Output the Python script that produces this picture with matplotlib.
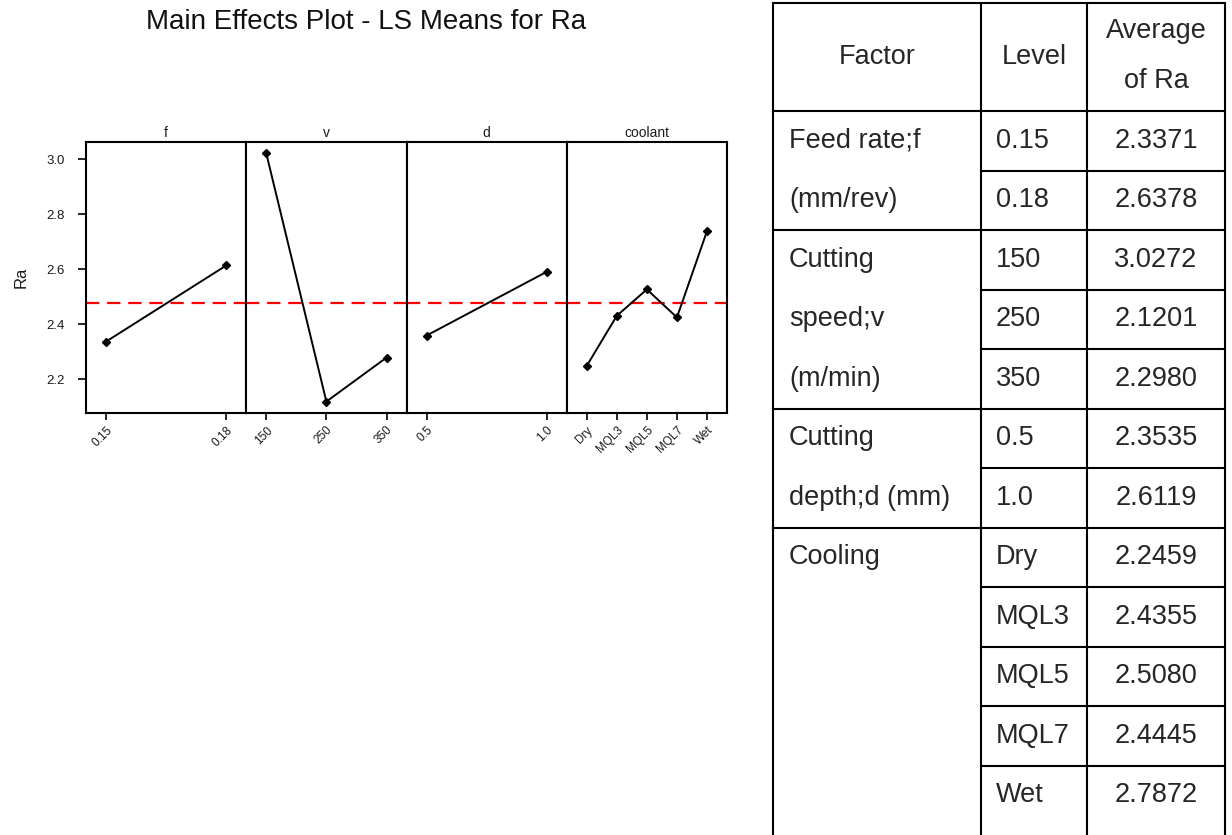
import matplotlib
matplotlib.use("Agg")
import matplotlib.pyplot as plt

plt.rcParams['font.family'] = ['Liberation Sans', 'DejaVu Sans']

# ---------------- data ----------------
title = "Main Effects Plot - LS Means for Ra"
panel_names = ["f", "v", "d", "coolant"]
f_levels = ["0.15", "0.18"]
f_means = [2.337, 2.614]
v_levels = ["150", "250", "350"]
v_means = [3.022, 2.119, 2.279]
d_levels = ["0.5", "1.0"]
d_means = [2.359, 2.591]
coolant_levels = ["Dry", "MQL3", "MQL5", "MQL7", "Wet"]
coolant_means = [2.249, 2.431, 2.527, 2.425, 2.739]
grand_mean = 2.476
y_ticks = [2.2, 2.4, 2.6, 2.8, 3.0]

table_header = ["Factor", "Level", "Average\nof Ra"]
table_factor_text = ["Feed rate;f", "(mm/rev)", "Cutting", "speed;v", "(m/min)",
                     "Cutting", "depth;d (mm)", "Cooling", "", "", "", ""]
table_levels = ["0.15", "0.18", "150", "250", "350", "0.5", "1.0",
                "Dry", "MQL3", "MQL5", "MQL7", "Wet"]
table_avgs = ["2.3371", "2.6378", "3.0272", "2.1201", "2.2980", "2.3535",
              "2.6119", "2.2459", "2.4355", "2.5080", "2.4445", "2.7872"]
group_rows = [2, 3, 2, 5]

# ---------------- figure ----------------
W, H = 1232, 835
fig = plt.figure(figsize=(W / 100, H / 100), dpi=100)

def fx(px):
    return px / W

def fy(py):
    return 1 - py / H

left, right, top, bottom = 86, 727, 142, 413
pw = (right - left) / 4
levels_all = [f_levels, v_levels, d_levels, coolant_levels]
means_all = [f_means, v_means, d_means, coolant_means]
edge_px = 20
txt = '#1a1a1a'

for i, (name, levs, means) in enumerate(zip(panel_names, levels_all, means_all)):
    ax = fig.add_axes([fx(left + i * pw), fy(bottom), fx(pw), (bottom - top) / H])
    n = len(levs)
    xs = list(range(n))
    a = edge_px / (pw - 2 * edge_px) * (n - 1)
    ax.set_xlim(-a, n - 1 + a)
    ax.set_ylim(2.0775, 3.063)
    ax.axhline(grand_mean, color='#ff0000', lw=1.6, ls=(0, (6, 3.5)), zorder=1)
    ax.plot(xs, means, color='black', lw=1.4, marker='D', ms=4.5,
            mfc='black', mec='black', zorder=3)
    ax.set_xticks(xs)
    ax.set_xticklabels(levs, rotation=45, ha='right', rotation_mode='anchor',
                       fontsize=8.5, color=txt)
    ax.tick_params(axis='x', length=5, width=1.2, pad=3)
    for sp in ax.spines.values():
        sp.set_linewidth(1.5)
    if i == 0:
        ax.set_yticks(y_ticks)
        ax.set_yticklabels([f"{t:.1f}" for t in y_ticks], fontsize=9.5, color=txt)
        ax.tick_params(axis='y', length=6, width=1.2, pad=9)
        ax.set_ylabel("Ra", fontsize=12, labelpad=13, color=txt)
    else:
        ax.set_yticks([])
    ax.set_title(name, fontsize=10, pad=3.5, color=txt)

fig.text(fx(366), fy(22), title, fontsize=20, ha='center', va='center', color='#111111')

# ---------------- table ----------------
tax = fig.add_axes([0, 0, 1, 1])
tax.set_xlim(0, W)
tax.set_ylim(H, 0)
tax.axis('off')

cx = [773, 981, 1087, 1225]
t_top, h_bot, rh = 3, 111, 59.5
y_end = H + 5
lw_t = 1.5
row_tops = [h_bot + k * rh for k in range(len(table_levels))]

for x in cx:
    tax.plot([x, x], [t_top, y_end], color='black', lw=lw_t, solid_capstyle='projecting')
tax.plot([cx[0], cx[3]], [t_top, t_top], color='black', lw=lw_t)
tax.plot([cx[0], cx[3]], [h_bot, h_bot], color='black', lw=lw_t)
for k in range(1, len(table_levels)):
    y = row_tops[k]
    tax.plot([cx[1], cx[3]], [y, y], color='black', lw=lw_t)
acc = 0
for g in group_rows[:-1]:
    acc += g
    y = row_tops[acc]
    tax.plot([cx[0], cx[1]], [y, y], color='black', lw=lw_t)

fs_t = 19.5
tcol = '#262626'
tax.text((cx[0] + cx[1]) / 2, (t_top + h_bot) / 2, table_header[0], ha='center', va='center', fontsize=fs_t, color=tcol)
tax.text((cx[1] + cx[2]) / 2, (t_top + h_bot) / 2, table_header[1], ha='center', va='center', fontsize=fs_t, color=tcol)
hdr3 = table_header[2].split("\n")
tax.text((cx[2] + cx[3]) / 2, 31, hdr3[0], ha='center', va='center', fontsize=fs_t, color=tcol)
tax.text((cx[2] + cx[3]) / 2, 81, hdr3[1], ha='center', va='center', fontsize=fs_t, color=tcol)

for k in range(len(table_levels)):
    yc = row_tops[k] + rh / 2
    if table_factor_text[k]:
        tax.text(cx[0] + 16, yc, table_factor_text[k], ha='left', va='center', fontsize=fs_t, color=tcol)
    tax.text(cx[1] + 15, yc, table_levels[k], ha='left', va='center', fontsize=fs_t, color=tcol)
    tax.text((cx[2] + cx[3]) / 2, yc, table_avgs[k], ha='center', va='center', fontsize=fs_t, color=tcol)

fig.savefig("out.png", dpi=100)
